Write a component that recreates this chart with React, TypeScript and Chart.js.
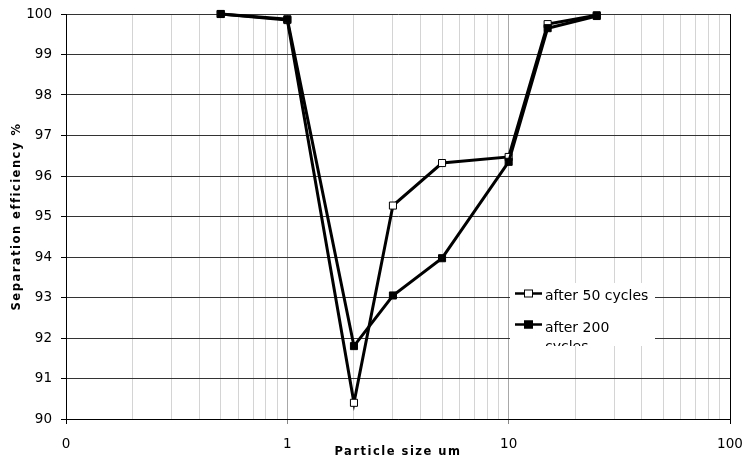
import React, { useEffect, useRef } from "react";
import { Chart, registerables } from "chart.js";

Chart.register(...registerables);

const particleSizes = [0.5, 1, 2, 3, 5, 10, 15, 25];
const after50 = [100, 99.85, 90.4, 95.27, 96.32, 96.47, 99.75, 99.97];
const after200 = [100, 99.87, 91.8, 93.05, 93.97, 96.35, 99.65, 99.95];
const seriesNames = ["after 50 cycles", "after 200 cycles"];
const xTickValues = [
  0.1, 0.2, 0.3, 0.4, 0.5, 0.6, 0.7, 0.8, 0.9,
  1, 2, 3, 4, 5, 6, 7, 8, 9,
  10, 20, 30, 40, 50, 60, 70, 80, 90, 100,
];
const xMajorTicks = [0.1, 1, 10, 100];
const xMajorLabels = ["0", "1", "10", "100"];
const yMin = 90;
const yMax = 100;
const xTitle = "Particle size um";
const yTitle = "Separation efficiency %";

const isMajor = (v: number) => xMajorTicks.some((m) => Math.abs(m - v) < 1e-9);

const zeroPad = (scale: any) => {
  scale.paddingLeft = 0;
  scale.paddingRight = 0;
  scale.paddingTop = 0;
  scale.paddingBottom = 0;
};

const overlayPlugin = {
  id: "overlay",
  afterDraw(chart: any) {
    const ctx = chart.ctx;
    const area = chart.chartArea;
    ctx.save();
    ctx.fillStyle = "#000";
    ctx.font = "bold 11.5px 'DejaVu Sans'";
    (ctx as any).letterSpacing = "1.5px";
    ctx.textAlign = "center";
    ctx.textBaseline = "middle";
    ctx.fillText(xTitle, (area.left + area.right) / 2, 452);
    ctx.translate(17, (area.top + area.bottom) / 2);
    ctx.rotate(-Math.PI / 2);
    ctx.fillText(yTitle, 0, 0);
    ctx.restore();

    const bx = 510, by = 283, bw = 145, bh = 63;
    ctx.save();
    ctx.fillStyle = "#ffffff";
    ctx.fillRect(bx, by, bw, bh);
    ctx.beginPath();
    ctx.rect(bx, by, bw, bh);
    ctx.clip();
    const items = [
      { name: seriesNames[0], filled: false, lineY: 293.5, textY: 296 },
      { name: seriesNames[1], filled: true, lineY: 324.5, textY: 328 },
    ];
    items.forEach((it) => {
      ctx.strokeStyle = "#000";
      ctx.lineWidth = 2.5;
      ctx.beginPath();
      ctx.moveTo(515, it.lineY);
      ctx.lineTo(542, it.lineY);
      ctx.stroke();
      ctx.fillStyle = it.filled ? "#000" : "#fff";
      ctx.fillRect(524, it.lineY - 4, 9, 8);
      ctx.lineWidth = 1;
      ctx.strokeRect(524.5, it.lineY - 3.5, 8, 7);
      ctx.fillStyle = "#000";
      ctx.font = "14px 'DejaVu Sans'";
      ctx.textBaseline = "middle";
      ctx.textAlign = "left";
      if (it.filled) {
        const parts = it.name.split(" ");
        ctx.fillText(parts.slice(0, 2).join(" "), 545, it.textY);
        ctx.fillText(parts.slice(2).join(" "), 545, it.textY + 19);
      } else {
        ctx.fillText(it.name, 545, it.textY);
      }
    });
    ctx.restore();
  },
};

export default function App() {
  const ref = useRef<HTMLCanvasElement | null>(null);
  useEffect(() => {
    if (!ref.current) return;
    const chart = new Chart(ref.current, {
      type: "line",
      data: {
        datasets: [
          {
            label: seriesNames[0],
            data: particleSizes.map((x, i) => ({ x, y: after50[i] })),
            borderColor: "#000",
            borderWidth: 3,
            pointStyle: "rect",
            pointRadius: 5,
            pointBackgroundColor: "#fff",
            pointBorderColor: "#000",
            pointBorderWidth: 1,
            tension: 0,
            clip: false as any,
            order: 1,
          },
          {
            label: seriesNames[1],
            data: particleSizes.map((x, i) => ({ x, y: after200[i] })),
            borderColor: "#000",
            borderWidth: 3,
            pointStyle: "rect",
            pointRadius: 5,
            pointBackgroundColor: "#000",
            pointBorderColor: "#000",
            pointBorderWidth: 1,
            tension: 0,
            clip: false as any,
            order: 0,
          },
        ],
      },
      options: {
        animation: false,
        responsive: false,
        maintainAspectRatio: false,
        layout: { padding: { top: 14, right: 15, left: 0, bottom: 0 } },
        plugins: { legend: { display: false }, tooltip: { enabled: false } },
        scales: {
          x: {
            type: "logarithmic",
            min: 0.1,
            max: 100,
            afterBuildTicks(scale: any) {
              scale.ticks = xTickValues.map((v) => ({ value: v, major: isMajor(v) }));
            },
            afterFit(scale: any) {
              scale.height = 42;
              zeroPad(scale);
            },
            border: { color: "#000", width: 1 },
            grid: {
              drawOnChartArea: true,
              tickLength: 5,
              color: (c: any) => {
                const v = c.tick ? c.tick.value : 0;
                if (Math.abs(v - 100) < 1e-9) return "#000";
                if (Math.abs(v - 0.1) < 1e-9) return "#000";
                return isMajor(v) ? "#a8a8a8" : "#d4d4d4";
              },
              tickColor: (c: any) => {
                const v = c.tick ? c.tick.value : 0;
                if (!isMajor(v)) return "rgba(0,0,0,0)";
                if (Math.abs(v - 10) < 1e-9 || Math.abs(v - 1) < 1e-9) return "#888";
                return "#000";
              },
            },
            ticks: {
              autoSkip: false,
              maxRotation: 0,
              padding: 12,
              color: "#000",
              font: { family: "'DejaVu Sans'", size: 13.5 },
              callback: (v: any) => {
                const idx = xMajorTicks.findIndex((m) => Math.abs(m - Number(v)) < 1e-9);
                return idx >= 0 ? xMajorLabels[idx] : "";
              },
            },
            title: { display: false },
          },
          y: {
            type: "linear",
            min: yMin,
            max: yMax,
            afterFit(scale: any) {
              scale.width = 66;
              zeroPad(scale);
            },
            border: { color: "#000", width: 1 },
            grid: { color: "#333", tickLength: 5, tickColor: "#000" },
            ticks: {
              stepSize: 1,
              padding: 9,
              color: "#000",
              font: { family: "'DejaVu Sans'", size: 13.5 },
            },
            title: { display: false },
          },
        },
      },
      plugins: [overlayPlugin],
    });
    return () => chart.destroy();
  }, []);
  return (
    <div style={{ position: "absolute", left: 0, top: 0, width: 745, height: 461, background: "#fff" }}>
      <canvas ref={ref} width={745} height={461} style={{ width: 745, height: 461, display: "block" }} />
    </div>
  );
}
